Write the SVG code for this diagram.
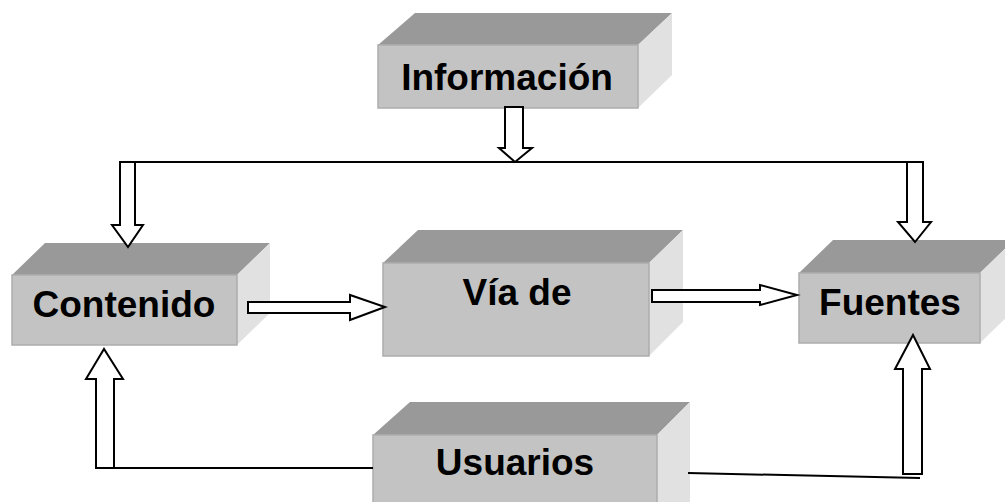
<svg xmlns="http://www.w3.org/2000/svg" width="1005" height="502" viewBox="0 0 1005 502">
<style>
.top{fill:#999999}
.front{fill:#c3c3c3;stroke:#adadad;stroke-width:1.5}
.side{fill:#e1e1e1}
.lbl{font-family:"Liberation Sans",Arial,sans-serif;font-weight:bold;font-size:37px;fill:#000;text-anchor:middle}
.arr{fill:#fff;stroke:#000;stroke-width:2;stroke-linejoin:miter}
.ln{fill:none;stroke:#000;stroke-width:2}
</style>
<rect width="1005" height="502" fill="#fff"/>
<g id="informacion">
<polygon class="top" points="378,45 415,13 672,13 638,45"/>
<polygon class="side" points="638,45 672,13 672,75 638,108"/>
<rect class="front" x="378" y="45" width="260" height="63"/>
<text class="lbl" x="507" y="90">Información</text>
</g>
<g id="contenido">
<polygon class="top" points="12,275 45,243 270,243 237,275"/>
<polygon class="side" points="237,275 270,243 270,313 237,345"/>
<rect class="front" x="12" y="275" width="225" height="70"/>
<text class="lbl" x="124" y="317">Contenido</text>
</g>
<g id="via">
<polygon class="top" points="383,263 418,230 683,230 649,263"/>
<polygon class="side" points="649,263 683,230 683,322 649,356"/>
<rect class="front" x="383" y="263" width="266" height="93"/>
<text class="lbl" x="517" y="305">Vía de</text>
</g>
<g id="fuentes">
<polygon class="top" points="799,273 833,240 1014,240 980,273"/>
<polygon class="side" points="980,273 1014,240 1014,310 980,343"/>
<rect class="front" x="799" y="273" width="181" height="70"/>
<text class="lbl" x="890" y="315">Fuentes</text>
</g>
<g id="usuarios">
<polygon class="top" points="373,435 410,402 690,402 657,435"/>
<polygon class="side" points="657,435 690,402 690,502 657,502"/>
<rect class="front" x="373" y="435" width="284" height="70"/>
<text class="lbl" x="515" y="475">Usuarios</text>
</g>
<g id="connectors">
<line class="ln" x1="120" y1="162" x2="923" y2="162"/>
<polygon class="arr" points="505,107 523,107 523,148 532,148 515,162 499,148 505,148"/>
<polygon class="arr" points="120,162 135,162 135,225 143,225 128,247 112,225 120,225"/>
<polygon class="arr" points="907,162 923,162 923,222 931,222 915,242 898,222 907,222"/>
<polygon class="arr" points="248,302 350,302 350,295 385,307 350,320 350,313 248,313"/>
<polygon class="arr" points="652,290 760,290 760,285 797,295 760,305 760,302 652,302"/>
<polygon class="arr" points="96,468 96,379 86,379 104,349 123,379 114,379 114,468"/>
<line class="ln" x1="96" y1="468" x2="373" y2="468"/>
<polygon class="arr" points="903,474 903,369 895,369 913,335 930,369 922,369 922,474"/>
<line class="ln" x1="688" y1="473" x2="920" y2="478"/>
</g>
</svg>
